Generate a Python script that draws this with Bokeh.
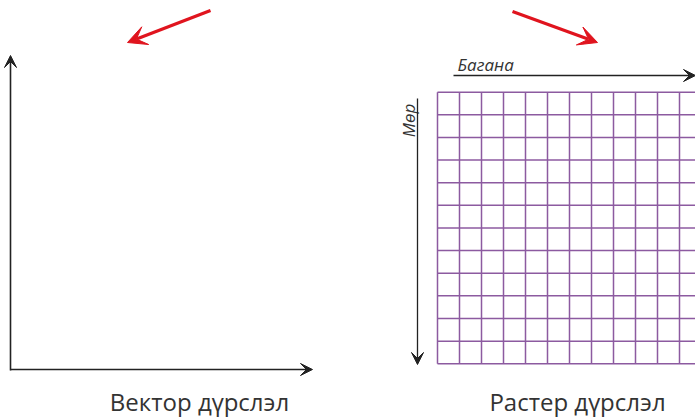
from bokeh.plotting import figure
from bokeh.models import Range1d, Arrow, VeeHead
from bokeh.core.properties import value
from bokeh.embed import file_html
from bokeh.resources import INLINE
import numpy as np

# --- content (diagram coordinates in page pixels) ---
labels = ["Вектор дүрслэл", "Растер дүрслэл"]
label_x = [199, 577]
label_y = [401, 401]

col_label = "Багана"
row_label = "Мөр"

grid_x0, grid_y0 = 437.0, 91.7
cell_w, cell_h = 22.0, 22.63
n_cols, n_rows = 13, 12

grid_color = "#8c5aa0"

W, H = 695, 420
p = figure(width=W, height=H, output_backend="svg", toolbar_location=None,
           x_range=Range1d(0, W), y_range=Range1d(H, 0),
           min_border=0)
p.axis.visible = False
p.grid.visible = False
p.outline_line_color = None
p.background_fill_color = "white"

# raster grid
xs_v = [grid_x0 + cell_w * i for i in range(n_cols + 1)]
ys_h = [grid_y0 + cell_h * j for j in range(n_rows + 1)]
y_bot = ys_h[-1]
x_right = xs_v[-1]
p.segment(x0=xs_v, y0=[grid_y0] * len(xs_v), x1=xs_v, y1=[y_bot] * len(xs_v),
          line_color=grid_color, line_width=1.5)
p.segment(x0=[grid_x0] * len(ys_h), y0=ys_h, x1=[x_right] * len(ys_h), y1=ys_h,
          line_color=grid_color, line_width=1.5)

def arrow(x0, y0, x1, y1, color, lw, size):
    p.add_layout(Arrow(end=VeeHead(size=size, fill_color=color, line_color=color),
                       x_start=x0, y_start=y0, x_end=x1, y_end=y1,
                       line_color=color, line_width=lw))

# vector axes
arrow(10, 370, 10, 55, "#222222", 1.6, 12)
arrow(10, 369, 312, 369, "#222222", 1.6, 12)

# raster axes
arrow(453, 75, 695, 75, "#222222", 1.3, 12)
arrow(417, 98, 417, 364, "#222222", 1.3, 12)

# red pointer arrows
arrow(210, 10, 127, 42, "#e0141e", 3.2, 19)
arrow(512, 11, 597, 42, "#e0141e", 3.2, 19)

# labels
p.text(x=label_x, y=label_y, text=labels, text_font=value("Open Sans"),
       text_font_size="24px", text_color="#333333",
       text_align="center", text_baseline="alphabetic")
p.text(x=[457], y=[64], text=[col_label], text_font=value("Open Sans"),
       text_font_size="17px", text_font_style="italic", text_color="#333333",
       text_align="left", text_baseline="alphabetic")
p.text(x=[408], y=[120], text=[row_label], text_font=value("Open Sans"),
       text_font_size="17px", text_font_style="italic", text_color="#333333",
       text_align="center", text_baseline="alphabetic", angle=np.pi / 2)

open("out.html", "w").write(file_html(p, INLINE))
